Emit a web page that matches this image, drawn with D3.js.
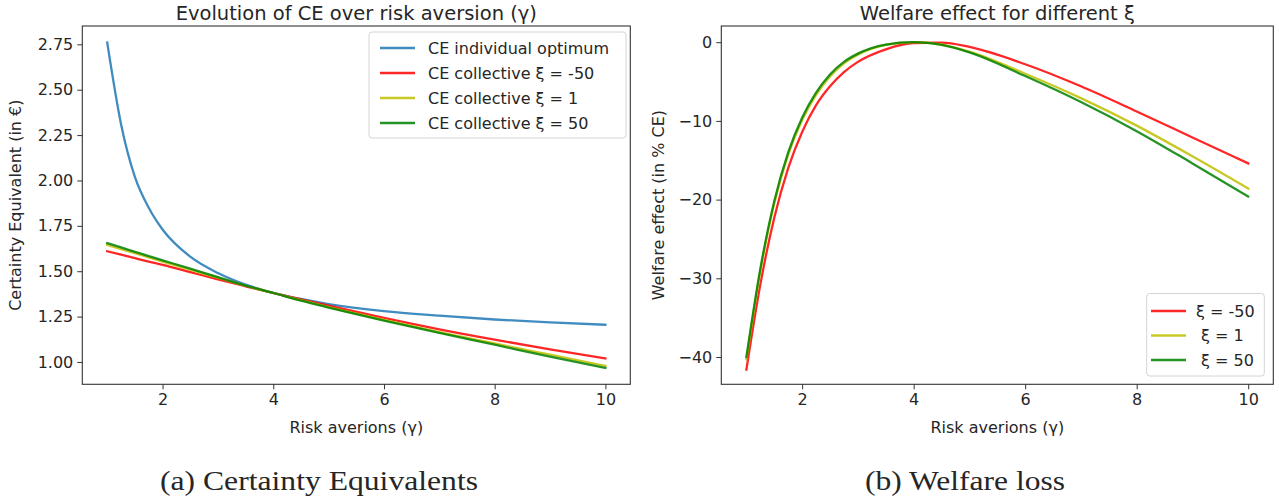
<!DOCTYPE html>
<html><head><meta charset="utf-8">
<script src="https://cdn.jsdelivr.net/npm/d3@7"></script>
<style>
html,body{margin:0;padding:0;background:#fff;}
svg text{font-family:"DejaVu Sans",sans-serif;fill:#262626;white-space:pre;}
</style></head>
<body><svg id="c" width="1279" height="499"></svg>
<script>
// ---- data ----
const gammaCE = [1, 1.25, 1.5, 1.75, 2, 2.5, 3, 3.5, 4, 4.5, 5, 6, 7, 8, 9, 10];
const ceIndividual = [2.76, 2.31, 2.02, 1.85, 1.73, 1.58, 1.49, 1.426, 1.381, 1.347, 1.319, 1.28, 1.255, 1.234, 1.218, 1.205];
const ceRed    = [1.61, 1.591, 1.572, 1.553, 1.535, 1.495, 1.455, 1.417, 1.38, 1.345, 1.31, 1.243, 1.18, 1.123, 1.07, 1.02];
const ceYellow = [1.645, 1.622, 1.6, 1.576, 1.553, 1.508, 1.464, 1.42, 1.38, 1.341, 1.302, 1.232, 1.165, 1.102, 1.04, 0.978];
const ceGreen  = [1.655, 1.631, 1.607, 1.583, 1.56, 1.514, 1.467, 1.421, 1.38, 1.338, 1.30, 1.228, 1.16, 1.095, 1.029, 0.967];
const gammaW = [1, 1.25, 1.5, 1.75, 2, 2.25, 2.5, 2.75, 3, 3.5, 4, 4.5, 5, 6, 7, 8, 9, 10];
const welfareRed    = [-41.6, -30.8, -22.3, -16.0, -11.4, -8.0, -5.6, -3.8, -2.5, -0.9, -0.1, -0.05, -0.6, -2.8, -5.6, -8.8, -12.1, -15.4];
const welfareYellow = [-40.3, -29.1, -20.5, -14.3, -9.9, -6.7, -4.35, -2.7, -1.6, -0.35, 0, -0.3, -1.2, -4.0, -7.1, -10.6, -14.5, -18.6];
const welfareGreen  = [-40.0, -28.8, -20.2, -14.0, -9.6, -6.4, -4.1, -2.5, -1.45, -0.3, 0, -0.35, -1.3, -4.3, -7.6, -11.3, -15.4, -19.6];
const xTicks = [2, 4, 6, 8, 10];
const ceTicks = [1.00, 1.25, 1.50, 1.75, 2.00, 2.25, 2.50, 2.75];
const welfareTicks = [-40, -30, -20, -10, 0];
const leftTitle = "Evolution of CE over risk aversion (γ)";
const rightTitle = "Welfare effect for different ξ";
const xLabel = "Risk averions (γ)";
const leftYLabel = "Certainty Equivalent (in €)";
const rightYLabel = "Welfare effect (in % CE)";
const leftLegend = ["CE individual optimum", "CE collective ξ = -50", "CE collective ξ = 1", "CE collective ξ = 50"];
const rightLegend = ["ξ = -50", " ξ = 1", " ξ = 50"];
const captions = ["(a) Certainty Equivalents", "(b) Welfare loss"];

const C = {blue:"#1f77b4", red:"#ff0000", yellow:"#bfbf00", green:"#008000"};
const svg = d3.select("#c");
const FS = 16;

function panel(opt){
  const {x0,x1,y0,y1,ydom,yticks,yfmt,xs,series,title,ylabel,ylabelX} = opt;
  const x = d3.scaleLinear().domain([0.55,10.45]).range([x0,x1]);
  const y = d3.scaleLinear().domain(ydom).range([y1,y0]);
  const g = svg.append("g");
  g.append("defs").append("clipPath").attr("id","clip"+Math.round(x0)).append("rect")
    .attr("x",x0).attr("y",y0).attr("width",x1-x0).attr("height",y1-y0);
  const line = d3.line().x((d,i)=>x(xs[i])).y(d=>y(d)).curve(d3.curveMonotoneX);
  const lg = g.append("g").attr("clip-path","url(#clip"+Math.round(x0)+")");
  series.forEach(s=>{
    lg.append("path").attr("d",line(s.values)).attr("fill","none")
      .attr("stroke",s.color).attr("stroke-width",2.3).attr("stroke-opacity",0.85)
      .attr("stroke-linecap","square");
  });
  const xa = g.append("g").attr("transform",`translate(0,${y1})`)
    .call(d3.axisBottom(x).tickValues(xTicks).tickSize(5).tickPadding(4).tickFormat(d3.format("d")));
  const ya = g.append("g").attr("transform",`translate(${x0},0)`)
    .call(d3.axisLeft(y).tickValues(yticks).tickSize(5).tickPadding(4).tickFormat(yfmt));
  [xa,ya].forEach(a=>{
    a.select(".domain").remove();
    a.selectAll("line").attr("stroke","#333").attr("stroke-width",1);
    a.selectAll("text").attr("font-size",FS).attr("font-family","DejaVu Sans").attr("fill","#262626");
  });
  g.append("rect").attr("x",x0).attr("y",y0).attr("width",x1-x0).attr("height",y1-y0)
    .attr("fill","none").attr("stroke","#333").attr("stroke-width",1.1);
  g.append("text").attr("x",(x0+x1)/2).attr("y",y0-6).attr("text-anchor","middle")
    .attr("font-size",19.5).text(title);
  g.append("text").attr("x",(x0+x1)/2).attr("y",y1+49).attr("text-anchor","middle")
    .attr("font-size",FS).text(xLabel);
  g.append("text").attr("transform",`translate(${ylabelX},${(y0+y1)/2}) rotate(-90)`)
    .attr("text-anchor","middle").attr("dy","0.35em").attr("font-size",FS).text(ylabel);
  return {x,y,g};
}

panel({x0:82.3,x1:630.3,y0:26,y1:384.3,ydom:[0.877,2.851],yticks:ceTicks,yfmt:d3.format(".2f"),xs:gammaCE,
  series:[{values:ceIndividual,color:C.blue},{values:ceRed,color:C.red},{values:ceYellow,color:C.yellow},{values:ceGreen,color:C.green}],
  title:leftTitle,ylabel:leftYLabel,ylabelX:15});
panel({x0:721.3,x1:1273.3,y0:26,y1:384.3,ydom:[-43.47,2.06],yticks:welfareTicks,yfmt:d=>d<0?"\u2212"+Math.abs(d):String(d),xs:gammaW,
  series:[{values:welfareRed,color:C.red},{values:welfareYellow,color:C.yellow},{values:welfareGreen,color:C.green}],
  title:rightTitle,ylabel:rightYLabel,ylabelX:658});

function legend(bx,by,bw,bh,labels,colors,firstY,step,hx0,hx1,tx){
  const g = svg.append("g");
  g.append("rect").attr("x",bx).attr("y",by).attr("width",bw).attr("height",bh).attr("rx",3)
    .attr("fill","#fff").attr("fill-opacity",0.8).attr("stroke","#d4d4d4").attr("stroke-width",1);
  labels.forEach((t,i)=>{
    const cy = firstY + i*step;
    g.append("line").attr("x1",hx0).attr("x2",hx1).attr("y1",cy).attr("y2",cy)
      .attr("stroke",colors[i]).attr("stroke-width",2.3).attr("stroke-opacity",0.85);
    g.append("text").attr("x",tx).attr("y",cy).attr("dy","0.35em").attr("font-size",FS).text(t);
  });
}
legend(369,32,257,106,leftLegend,[C.blue,C.red,C.yellow,C.green],48,25,380,415,428);
legend(1146.7,293.5,117.6,82.5,rightLegend,[C.red,C.yellow,C.green],311,24.5,1151,1186,1196);

captions.forEach((t,i)=>{
  svg.append("text").attr("x",[319,965][i]).attr("y",490).attr("text-anchor","middle")
    .style("font-family","'Liberation Serif',serif").attr("font-size",28).attr("fill","#000")
    .attr("textLength",[318,200][i]).attr("lengthAdjust","spacingAndGlyphs").text(t);
});
</script></body></html>
